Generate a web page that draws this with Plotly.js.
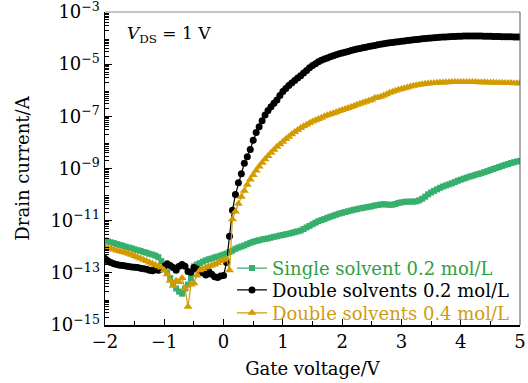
<!DOCTYPE html>
<html>
<head>
<meta charset="utf-8">
<script src="https://cdn.plot.ly/plotly-3.0.1.min.js"></script>
<style>html,body{margin:0;padding:0;background:#fff;}#chart{width:528px;height:383px;}</style>
</head>
<body>
<div id="chart"></div>
<script>
// Gate voltage (V)
const gateVoltage = [
-2.00,-1.95,-1.90,-1.85,-1.80,-1.75,-1.70,-1.65,-1.60,-1.55,
-1.50,-1.45,-1.40,-1.35,-1.30,-1.25,-1.20,-1.15,-1.10,-1.05,
-1.00,-0.95,-0.90,-0.85,-0.80,-0.75,-0.70,-0.65,-0.60,-0.55,
-0.50,-0.45,-0.40,-0.35,-0.30,-0.25,-0.20,-0.15,-0.10,-0.05,
0.00,0.05,0.10,0.15,0.20,0.25,0.30,0.35,0.40,0.45,
0.50,0.55,0.60,0.65,0.70,0.75,0.80,0.85,0.90,0.95,
1.00,1.05,1.10,1.15,1.20,1.25,1.30,1.35,1.40,1.45,
1.50,1.55,1.60,1.65,1.70,1.75,1.80,1.85,1.90,1.95,
2.00,2.05,2.10,2.15,2.20,2.25,2.30,2.35,2.40,2.45,
2.50,2.55,2.60,2.65,2.70,2.75,2.80,2.85,2.90,2.95,
3.00,3.05,3.10,3.15,3.20,3.25,3.30,3.35,3.40,3.45,
3.50,3.55,3.60,3.65,3.70,3.75,3.80,3.85,3.90,3.95,
4.00,4.05,4.10,4.15,4.20,4.25,4.30,4.35,4.40,4.45,
4.50,4.55,4.60,4.65,4.70,4.75,4.80,4.85,4.90,4.95,
5.00];

// log10 of drain current (A)
const logSingle02 = [
-11.76,-11.8,-11.83,-11.86,-11.9,-11.93,-11.96,-12.0,-12.03,-12.06,
-12.1,-12.13,-12.16,-12.2,-12.23,-12.27,-12.3,-12.34,-12.4,-12.55,
-12.8,-12.98,-13.2,-13.4,-13.6,-13.72,-13.8,-13.6,-13.45,-13.2,
-12.75,-12.68,-12.63,-12.57,-12.52,-12.48,-12.45,-12.41,-12.38,-12.34,
-12.3,-12.26,-12.2,-12.15,-12.08,-12.03,-11.99,-11.95,-11.9,-11.85,
-11.81,-11.78,-11.75,-11.72,-11.7,-11.68,-11.65,-11.62,-11.6,-11.57,
-11.55,-11.52,-11.5,-11.47,-11.44,-11.41,-11.38,-11.32,-11.26,-11.2,
-11.14,-11.08,-11.02,-10.98,-10.94,-10.89,-10.85,-10.81,-10.77,-10.73,
-10.7,-10.67,-10.64,-10.61,-10.58,-10.56,-10.53,-10.51,-10.49,-10.47,
-10.45,-10.42,-10.4,-10.38,-10.37,-10.38,-10.39,-10.39,-10.36,-10.32,
-10.3,-10.28,-10.27,-10.27,-10.27,-10.26,-10.22,-10.16,-10.08,-9.99,
-9.92,-9.86,-9.8,-9.74,-9.69,-9.65,-9.61,-9.57,-9.52,-9.47,
-9.43,-9.39,-9.35,-9.31,-9.28,-9.24,-9.21,-9.18,-9.14,-9.1,
-9.06,-9.02,-8.98,-8.94,-8.9,-8.86,-8.83,-8.79,-8.76,-8.73,
-8.71];

const logDouble02 = [
-12.45,-12.55,-12.6,-12.65,-12.68,-12.71,-12.72,-12.74,-12.76,-12.78,
-12.79,-12.8,-12.82,-12.84,-12.86,-12.9,-12.92,-12.88,-12.9,-12.85,
-12.75,-12.65,-12.72,-12.8,-12.9,-12.75,-12.68,-12.75,-12.95,-12.98,
-12.8,-12.85,-12.9,-13.0,-13.08,-12.95,-13.05,-13.15,-13.18,-13.12,
-13.1,-12.6,-11.6,-10.6,-10.0,-9.55,-9.2,-8.8,-8.55,-8.27,
-7.92,-7.62,-7.4,-7.17,-6.95,-6.78,-6.63,-6.5,-6.37,-6.2,
-6.05,-5.93,-5.82,-5.72,-5.63,-5.53,-5.44,-5.34,-5.24,-5.14,
-5.05,-4.98,-4.91,-4.85,-4.8,-4.76,-4.72,-4.68,-4.64,-4.6,
-4.57,-4.54,-4.51,-4.48,-4.45,-4.42,-4.4,-4.37,-4.35,-4.32,
-4.3,-4.28,-4.26,-4.24,-4.22,-4.2,-4.18,-4.17,-4.15,-4.14,
-4.12,-4.11,-4.09,-4.08,-4.06,-4.05,-4.04,-4.03,-4.02,-4.01,
-4.0,-3.99,-3.98,-3.97,-3.96,-3.96,-3.95,-3.94,-3.94,-3.93,
-3.93,-3.92,-3.92,-3.92,-3.92,-3.92,-3.92,-3.92,-3.93,-3.93,
-3.93,-3.94,-3.94,-3.94,-3.95,-3.95,-3.95,-3.95,-3.96,-3.96,
-3.96];

const logDouble04 = [
-12.02,-12.05,-12.08,-12.11,-12.14,-12.17,-12.2,-12.23,-12.27,-12.31,
-12.35,-12.4,-12.45,-12.5,-12.55,-12.6,-12.65,-12.7,-12.75,-12.8,
-12.9,-13.05,-13.3,-13.5,-13.3,-13.35,-13.2,-13.6,-14.3,-13.45,
-13.4,-13.1,-12.9,-12.85,-12.8,-12.75,-12.72,-12.68,-12.62,-12.55,
-12.5,-12.45,-12.9,-10.95,-10.65,-10.35,-10.08,-9.85,-9.62,-9.42,
-9.25,-9.08,-8.92,-8.78,-8.65,-8.52,-8.4,-8.28,-8.17,-8.07,
-7.97,-7.87,-7.78,-7.69,-7.6,-7.52,-7.45,-7.38,-7.32,-7.26,
-7.2,-7.15,-7.1,-7.05,-7.0,-6.96,-6.92,-6.88,-6.84,-6.8,
-6.76,-6.72,-6.68,-6.64,-6.6,-6.56,-6.52,-6.48,-6.44,-6.4,
-6.36,-6.3,-6.28,-6.25,-6.2,-6.15,-6.1,-6.06,-6.02,-5.98,
-5.95,-5.92,-5.89,-5.86,-5.83,-5.81,-5.79,-5.77,-5.75,-5.74,
-5.73,-5.72,-5.71,-5.7,-5.7,-5.69,-5.69,-5.68,-5.68,-5.68,
-5.68,-5.68,-5.68,-5.68,-5.68,-5.68,-5.69,-5.69,-5.69,-5.7,
-5.7,-5.7,-5.71,-5.71,-5.71,-5.72,-5.72,-5.72,-5.73,-5.73,
-5.73];

const seriesNames = ['Single solvent 0.2 mol/L','Double solvents 0.2 mol/L','Double solvents 0.4 mol/L'];
const labeledExponents = [-15,-13,-11,-9,-7,-5,-3];
const unlabeledExponents = [-14,-12,-10,-8,-6,-4];
const xTicks = [-2,-1,0,1,2,3,4,5];

const FONT = 'DejaVu Serif';
const FS = 18;
const green = '#36b06c', greenText = '#2f9f45';
const gold = '#d29b00', goldText = '#d09c10';

const toA = arr => arr.map(v => Math.pow(10, v));

const traces = [
  {x: gateVoltage, y: toA(logSingle02), mode: 'lines+markers', legend: 'legend',
   name: '<span style="color:' + greenText + '">' + seriesNames[0] + '</span>',
   line: {color: green, width: 1.2},
   marker: {symbol: 'square', size: 6, color: green}},
  {x: gateVoltage, y: toA(logDouble02), mode: 'lines+markers', legend: 'legend2',
   name: '<span style="color:#000">' + seriesNames[1] + '</span>',
   line: {color: '#000', width: 1.2},
   marker: {symbol: 'circle', size: 7, color: '#000'}},
  {x: gateVoltage, y: toA(logDouble04), mode: 'lines+markers', legend: 'legend3',
   name: '<span style="color:' + goldText + '">' + seriesNames[2] + '</span>',
   line: {color: gold, width: 1.2},
   marker: {symbol: 'triangle-up', size: 8, color: gold}}
];

const minorVals = [];
[-15,-14,-13,-12,-11,-10,-9,-8,-7,-6,-5,-4].forEach(e => { for (let k = 2; k <= 9; k++) minorVals.push(k * Math.pow(10, e)); });

const legendBase = {x: 0.306, xanchor: 'left', yanchor: 'middle',
  bgcolor: 'rgba(255,255,255,0)', borderwidth: 0,
  font: {family: FONT, size: FS}, itemwidth: 30};

const layout = {
  width: 528, height: 383,
  margin: {l: 105, r: 8, t: 12, b: 58},
  paper_bgcolor: '#fff', plot_bgcolor: '#fff',
  font: {family: FONT, size: FS, color: '#000'},
  showlegend: true,
  legend: Object.assign({}, legendBase, {y: 0.181}),
  legend2: Object.assign({}, legendBase, {y: 0.111}),
  legend3: Object.assign({}, legendBase, {y: 0.038}),
  xaxis: {
    range: [-2, 5], tickvals: xTicks, ticks: 'inside', ticklen: 6, tickwidth: 1,
    tickcolor: '#000', showline: true, linecolor: '#000', linewidth: 1.5,
    showgrid: false, zeroline: false,
    minor: {dtick: 0.5, tick0: 0, ticks: 'inside', ticklen: 4, tickcolor: '#000', showgrid: false},
    tickfont: {family: FONT, size: FS},
    title: {text: 'Gate voltage/V', font: {family: FONT, size: FS}, standoff: 11}
  },
  yaxis: {
    type: 'log', range: [-15, -3], tickmode: 'array',
    tickvals: labeledExponents.map(e => Math.pow(10, e)),
    ticktext: labeledExponents.map(e => '10<sup>\u2212' + Math.abs(e) + '</sup>'),
    ticklabeloverflow: 'allow',
    ticks: 'inside', ticklen: 7, tickwidth: 1, tickcolor: '#000',
    showline: true, linecolor: '#000', linewidth: 1.5, showgrid: false, zeroline: false,
    minor: {tickmode: 'array', tickvals: minorVals, ticks: 'inside', ticklen: 4, tickcolor: '#000', showgrid: false},
    tickfont: {family: FONT, size: FS},
    title: {text: 'Drain current/A', font: {family: FONT, size: FS}, standoff: 16}
  },
  yaxis2: {
    type: 'log', range: [-15, -3], overlaying: 'y', anchor: 'x', side: 'left',
    tickmode: 'array', tickvals: unlabeledExponents.map(e => Math.pow(10, e)),
    showticklabels: false, ticks: 'inside', ticklen: 7, tickwidth: 1, tickcolor: '#000',
    showline: false, showgrid: false, zeroline: false
  },
  shapes: [
    {type: 'line', xref: 'paper', yref: 'paper', x0: 0, x1: 1, y0: 1, y1: 1, line: {color: '#888', width: 1}},
    {type: 'line', xref: 'paper', yref: 'paper', x0: 1, x1: 1, y0: 0, y1: 1, line: {color: '#555', width: 1}}
  ],
  annotations: [
    {xref: 'paper', yref: 'paper', x: 0.048, y: 0.97, xanchor: 'left', yanchor: 'top', showarrow: false,
     text: '<i>V</i><sub>DS</sub> = 1 V', font: {family: FONT, size: 17, color: '#000'}}
  ]
};

Plotly.newPlot('chart', traces, layout, {staticPlot: true, displayModeBar: false});
</script>
</body>
</html>
